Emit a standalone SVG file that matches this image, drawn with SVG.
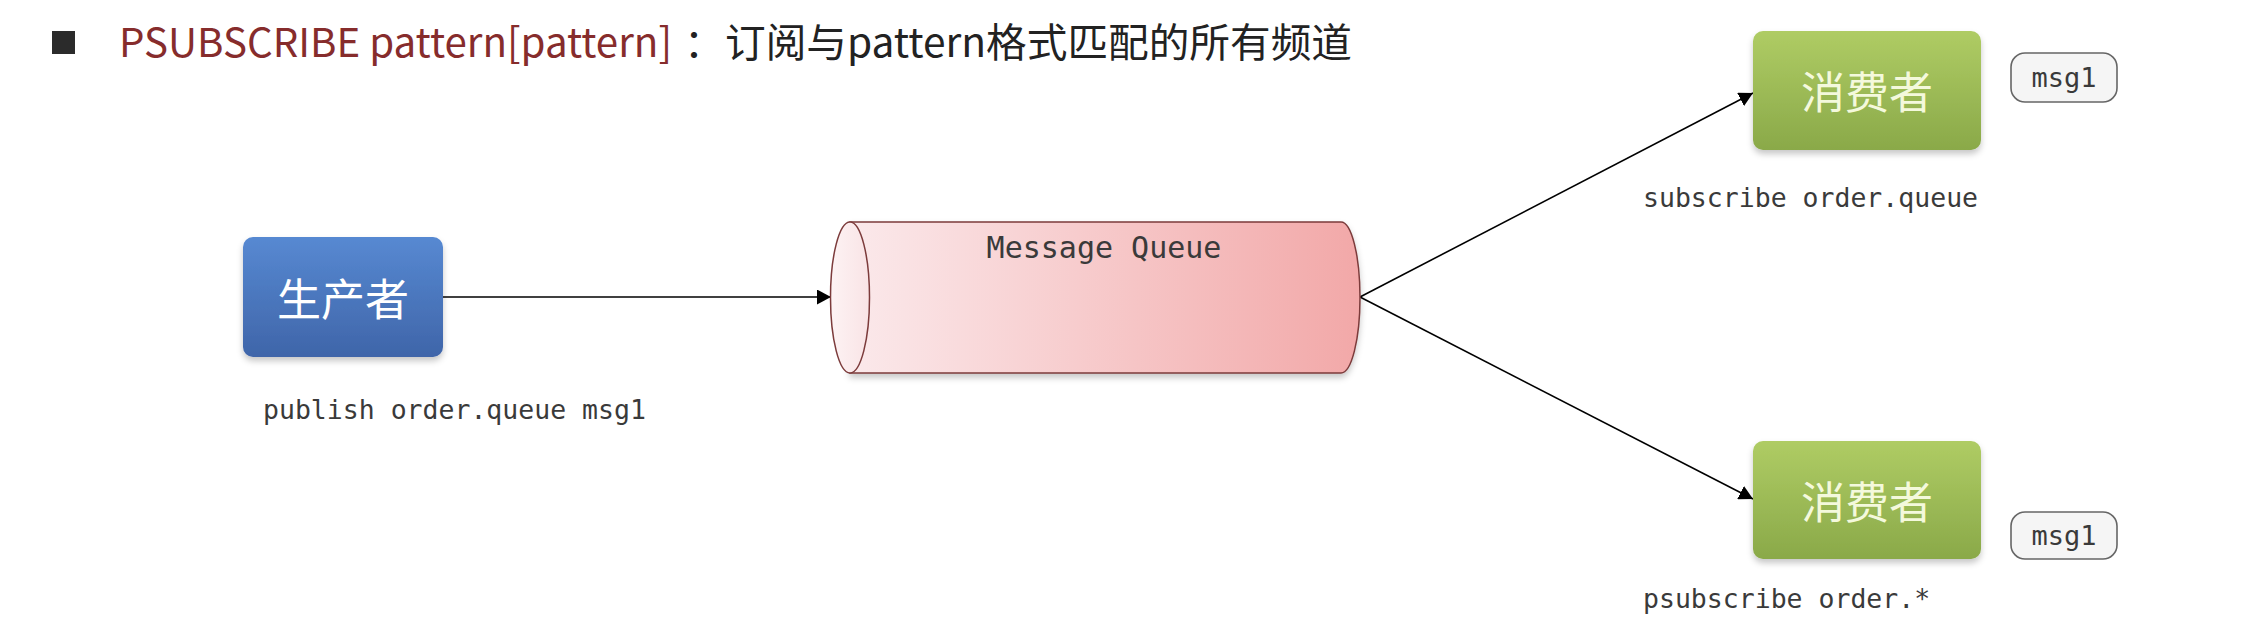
<svg xmlns="http://www.w3.org/2000/svg" width="2268" height="634" viewBox="0 0 2268 634">
  <defs>
    <linearGradient id="gBlue" x1="0" y1="0" x2="0" y2="1">
      <stop offset="0" stop-color="#5789d2"/>
      <stop offset="1" stop-color="#3f65a9"/>
    </linearGradient>
    <linearGradient id="gGreen" x1="0" y1="0" x2="0" y2="1">
      <stop offset="0" stop-color="#afcc64"/>
      <stop offset="1" stop-color="#8aa949"/>
    </linearGradient>
    <linearGradient id="gPink" x1="0" y1="0" x2="1" y2="0">
      <stop offset="0" stop-color="#fbe9eb"/>
      <stop offset="1" stop-color="#f2a8a8"/>
    </linearGradient>
    <linearGradient id="gCap" x1="0" y1="0" x2="1" y2="0">
      <stop offset="0" stop-color="#fdf3f4"/>
      <stop offset="1" stop-color="#f9e3e5"/>
    </linearGradient>
    <filter id="shadow" x="-10%" y="-10%" width="120%" height="130%">
      <feDropShadow dx="0" dy="4" stdDeviation="3" flood-color="#000" flood-opacity="0.22"/>
    </filter>
    <marker id="arrow" viewBox="0 0 14 15" refX="14" refY="7.5" markerWidth="14" markerHeight="15" markerUnits="userSpaceOnUse" orient="auto">
      <path d="M0,0 L14,7.5 L0,15 Z" fill="#000"/>
    </marker>
    <style>
      .mono { font-family: "DejaVu Sans Mono", "Liberation Mono", monospace; fill: #3a3a3a; }
      .cjk { font-family: "Noto Sans CJK SC", "Noto Sans", sans-serif; }
      .nodeText { font-size: 44px; text-anchor: middle; dominant-baseline: central; }
      .edge { stroke: #000; stroke-width: 1.6; fill: none; marker-end: url(#arrow); }
      .pill { fill: #f5f5f5; stroke: #666; stroke-width: 1.6; }
    </style>
  </defs>
  <rect width="2268" height="634" fill="#ffffff"/>

  <g id="title">
    <rect x="52" y="31" width="23" height="23" fill="#2b2b2b"/>
    <text class="cjk" x="119" y="57" font-size="40" fill="#862c2c" textLength="553" lengthAdjust="spacingAndGlyphs">PSUBSCRIBE pattern[pattern]</text>
    <text class="cjk" x="684" y="57" font-size="40" fill="#222">：</text>
    <text class="cjk" x="725" y="57" font-size="40" fill="#222" textLength="627" lengthAdjust="spacingAndGlyphs">订阅与pattern格式匹配的所有频道</text>
  </g>

  <g id="connectors">
    <line class="edge" x1="443" y1="297" x2="831" y2="297"/>
    <line class="edge" x1="1360" y1="297" x2="1753" y2="93"/>
    <line class="edge" x1="1360" y1="297" x2="1753" y2="499"/>
  </g>

  <g id="producer">
    <rect x="243" y="237" width="200" height="120" rx="10" fill="url(#gBlue)" filter="url(#shadow)"/>
    <text class="cjk nodeText" x="343" y="297" fill="#ffffff">生产者</text>
    <text class="mono" x="263" y="419" font-size="26.5">publish order.queue msg1</text>
  </g>

  <g id="queue">
    <path d="M850,222 L1341,222 A19,75.5 0 0 1 1341,373 L850,373 Z" fill="url(#gPink)" stroke="#7c3b3b" stroke-width="1.5" filter="url(#shadow)"/>
    <ellipse cx="850" cy="297.5" rx="19.5" ry="75.5" fill="url(#gCap)" stroke="#7c3b3b" stroke-width="1.5"/>
    <text class="mono" x="1104" y="258" font-size="30" text-anchor="middle" fill="#222">Message Queue</text>
  </g>

  <g id="consumer1">
    <rect x="1753" y="31" width="228" height="119" rx="10" fill="url(#gGreen)" filter="url(#shadow)"/>
    <text class="cjk nodeText" x="1867" y="90" fill="#f4f9dc">消费者</text>
    <text class="mono" x="1643" y="207" font-size="26.5">subscribe order.queue</text>
  </g>

  <g id="msg1-top">
    <rect class="pill" x="2011" y="53" width="106" height="49" rx="14"/>
    <text class="mono" x="2064" y="87" font-size="27" text-anchor="middle" fill="#555">msg1</text>
  </g>

  <g id="consumer2">
    <rect x="1753" y="441" width="228" height="118" rx="10" fill="url(#gGreen)" filter="url(#shadow)"/>
    <text class="cjk nodeText" x="1867" y="500" fill="#f4f9dc">消费者</text>
    <text class="mono" x="1643" y="608" font-size="26.5">psubscribe order.*</text>
  </g>

  <g id="msg1-bottom">
    <rect class="pill" x="2011" y="512" width="106" height="47" rx="14"/>
    <text class="mono" x="2064" y="545" font-size="27" text-anchor="middle" fill="#555">msg1</text>
  </g>
</svg>
